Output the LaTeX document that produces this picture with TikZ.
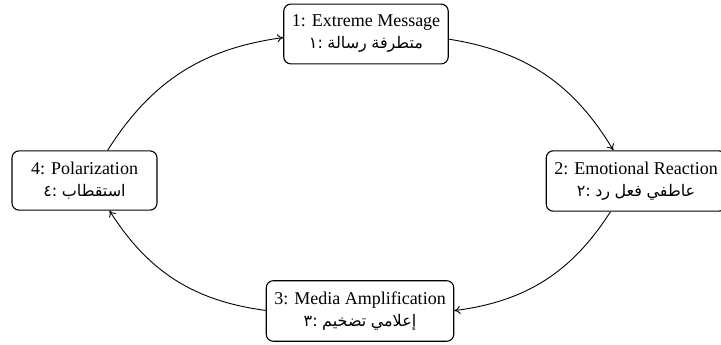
\documentclass[tikz,border=0pt]{standalone}
\usepackage{fontspec}
\setmainfont{Liberation Serif}
\newfontfamily\arabicfont[Script=Arabic]{DejaVu Sans}
\usetikzlibrary{arrows.meta}

% Arabic words set one by one, left to right, as the figure shows them
\newcommand{\arw}[1]{\mbox{\arabicfont\fontsize{16}{21}\selectfont #1}}

\begin{document}
\begin{tikzpicture}[
        x=1pt, y=-1pt,
        stage/.style = {draw, black, line width=1.1pt, rounded corners=7pt, minimum width=145pt, inner xsep=8pt, inner ysep=11pt, align=center, font=\fontsize{18}{22}\selectfont},
        arrow/.style = {-{To[length=6pt, width=8pt]}, line width=0.9pt}
    ]
        \useasboundingbox (0,0) rectangle (721,345);

        \node[stage] (S1) at (366,34) {1: Extreme Message\\\arw{١}\arw{:}\ \arw{رسالة}\ \arw{متطرفة}};
        \node[stage] (S2) at (636,181) {2: Emotional Reaction\\\arw{٢}\arw{:}\ \arw{رد}\ \arw{فعل}\ \arw{عاطفي}};
        \node[stage] (S3) at (360,311) {3: Media Amplification\\\arw{٣}\arw{:}\ \arw{تضخيم}\ \arw{إعلامي}};
        \node[stage] (S4) at (84.5,180.5) {4: Polarization\\\arw{٤}\arw{:}\ \arw{استقطاب}};

        \draw[arrow] (S1) to[bend left=25] (S2);
        \draw[arrow] (S2) to[bend left=25] (S3);
        \draw[arrow] (S3) to[bend left=25] (S4);
        \draw[arrow] (S4) to[bend left=25] (S1);

    \end{tikzpicture}
\end{document}
